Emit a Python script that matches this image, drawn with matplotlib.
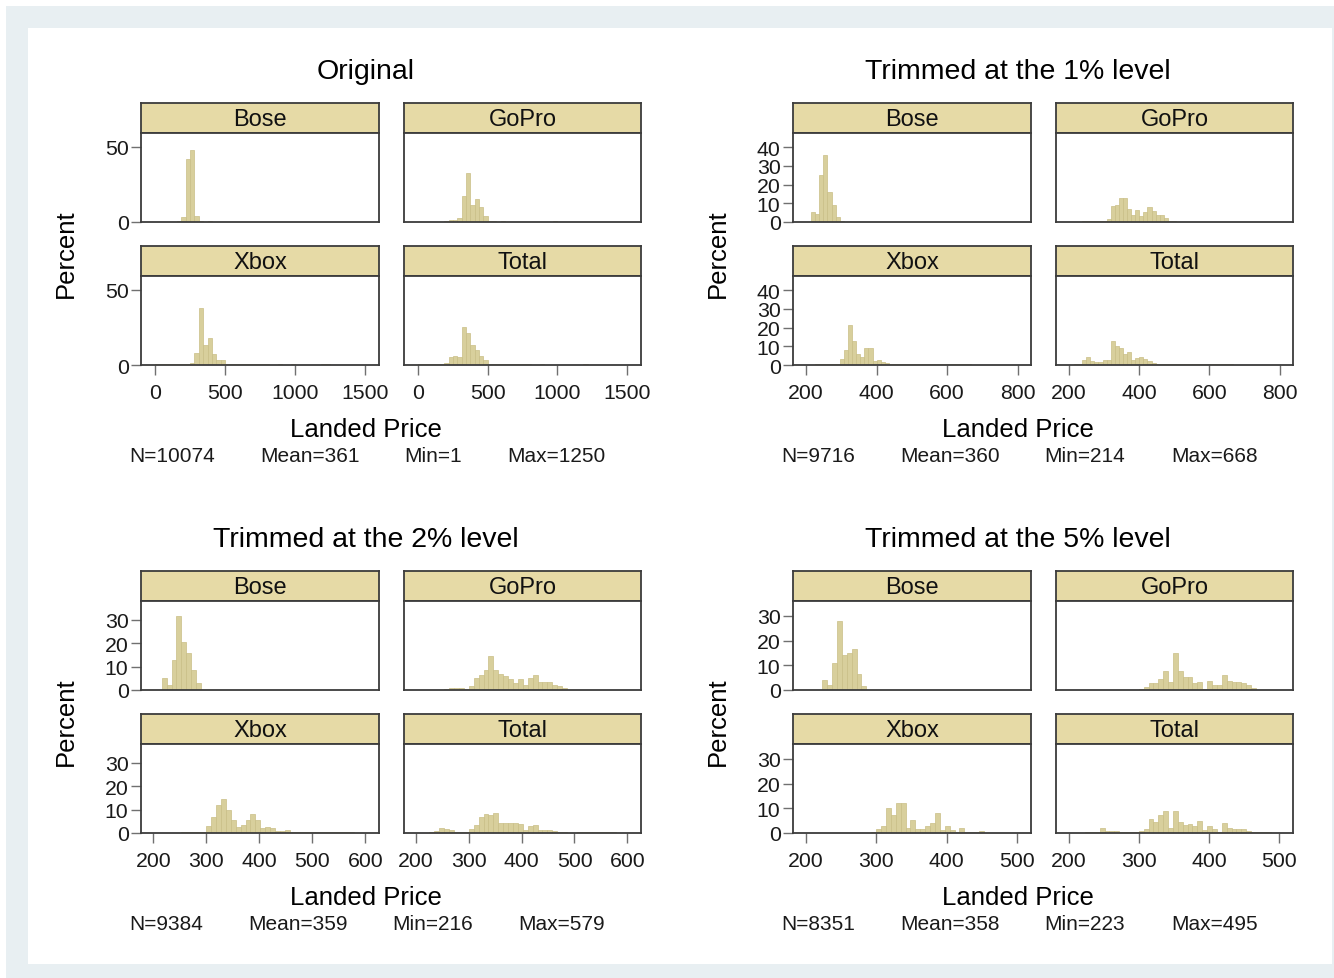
import matplotlib
matplotlib.use('Agg')
import matplotlib.pyplot as plt
from matplotlib.patches import Rectangle

plt.rcParams['font.family'] = ['Liberation Sans', 'DejaVu Sans']

# ---- data (percent per bin) ----
groups = ['Bose', 'GoPro', 'Xbox', 'Total']
titles = ['Original', 'Trimmed at the 1% level',
          'Trimmed at the 2% level', 'Trimmed at the 5% level']

n_obs = [10074, 9716, 9384, 8351]
means = [361, 360, 359, 358]
mins = [1, 214, 216, 223]
maxs = [1250, 668, 579, 495]
n_bins = [40, 39, 39, 39]

# Original
orig_bose = [0, 0, 0, 0, 0, 0.5, 3, 42, 48, 4, 0.5, 0, 0.5] + [0] * 27
orig_gopro = ([0, 0, 0, 0, 0, 0, 0.4, 1, 1.5, 2.5, 17.5, 32.5, 11, 15, 10, 4, 0.5, 0.5, 0, 0.4]
              + [0] * 11 + [0.4] + [0] * 8)
orig_xbox = ([0.4] * 7 + [0.5, 1, 8, 38, 13, 18, 7, 3.5, 3.5] + [0.4] * 10
             + [0, 0, 0.6, 0, 0, 0.4, 0, 0, 0, 0, 0, 0, 0.6, 0.4])
orig_total = ([0.4] * 6 + [1, 5, 6, 5.5, 25, 21, 13, 10, 6, 3] + [0.4] * 10
              + [0, 0, 0.5, 0, 0, 0, 0, 0, 0, 0, 0, 0, 0.5, 0.3])

# Trimmed 1%
t1_bose = [5.5, 4.5, 25, 36, 16, 9, 2.5, 0.5] + [0] * 31
t1_gopro = [0, 0, 0.3, 0.5, 0.5, 0.3, 0.5, 0.8, 1.5, 8.5, 9, 13, 13, 7, 4, 6.5, 3, 5.5, 8, 6,
            4, 3.5, 2, 0.8, 0.5] + [0] * 14
t1_xbox = [0, 0.3, 0.3, 0.3, 0.3, 0.5, 0.8, 3, 8, 21.5, 13, 6, 4.5, 9, 9, 2, 2.5, 1.5, 1, 0.8,
           0.6] + [0.3] * 18
t1_total = [0.3, 0.3, 2.5, 4.5, 2, 1.5, 1.5, 2.5, 2.5, 13, 10, 9, 6, 7, 2.5, 4, 4.5, 3, 2, 1] \
    + [0.5] * 9 + [0.3] * 10

# Trimmed 2%
t2_bose = [5, 2, 12.7, 31.6, 20.6, 16, 8.4, 2.9] + [0] * 31
t2_gopro = [0, 0, 0, 0, 0.5, 0.7, 0.8, 0.7, 0.6, 1.5, 5, 6.5, 8.5, 14.5, 8.5, 7, 6, 4.5, 3, 4.5,
            2, 5, 6.5, 3.5, 3.5, 3.5, 2, 1.5, 1] + [0] * 10
t2_xbox = [0, 0, 0, 0, 0.3, 0.3, 0.5, 0.5, 0.5, 3, 7, 12, 14.5, 10, 5.5, 2.5, 3.5, 5.5, 8, 5.5,
           2, 2.5, 2, 1, 1, 1.2] + [0.5] * 13
t2_total = [0.2, 0.5, 1, 2, 1.5, 1.1, 0.5, 0.3, 0.5, 1.5, 3.3, 6.7, 8.1, 7.8, 8.4, 4.2, 4.2, 4.2,
            4.2, 3.8, 1.1, 2.8, 3.3, 1.1, 1.4, 1.4, 0.7, 0.5, 0.3, 0.2, 0.2] + [0.3] * 8

# Trimmed 5%
t5_bose = [4, 2, 11, 28, 14, 15, 16.5, 6.5, 1.5] + [0] * 30
t5_gopro = [0] * 11 + [0.5, 1.1, 2.7, 3, 4.5, 7.7, 3.4, 14.9, 7.7, 5.1, 5.1, 3, 3.2, 0.3, 3.7,
                       1.9, 1.9, 6.2, 3.7, 3.2, 3.2, 2.7, 1.9, 0.9, 0.2] + [0] * 3
t5_xbox = [0] * 10 + [0.5, 1.7, 3, 10, 7.2, 12, 12, 2, 5.1, 1.8, 1.8, 2.8, 3.9, 8, 1.4, 3, 1.1,
                      0.3, 2, 0.3, 0.3, 0.3, 0.7] + [0.2] * 6
t5_total = [0.3, 0.3, 0.3, 2, 0.8, 0.8, 0.8, 0.3, 0.5, 0.3, 0.3, 0.9, 1.7, 5.5, 4.4, 7.3, 9, 2.1,
            9.1, 4.4, 3.4, 3.6, 2.9, 4.8, 1.2, 2.9, 1.5, 0.5, 3.9, 2, 1.5, 1.5, 1.5, 0.7, 0.3,
            0.3, 0.3, 0.3, 0.2]

panel_data = [[orig_bose, orig_gopro, orig_xbox, orig_total],
              [t1_bose, t1_gopro, t1_xbox, t1_total],
              [t2_bose, t2_gopro, t2_xbox, t2_total],
              [t5_bose, t5_gopro, t5_xbox, t5_total]]

x_ticks = [[0, 500, 1000, 1500], [200, 400, 600, 800],
           [200, 300, 400, 500, 600], [200, 300, 400, 500]]
y_ticks = [[0, 50], [0, 10, 20, 30, 40], [0, 10, 20, 30], [0, 10, 20, 30]]

# ---- layout / style ----
W, H = 1334, 979
bar_fill = '#d8cf9c'
bar_edge = '#c9be86'
strip_fill = '#e6daa6'
frame_col = '#3c3c3c'
tick_col = '#707070'

x_lims = [(-100, 1600), (163, 838), (177, 626), (181.5, 520)]
y_tops = [59, 47.5, 38, 36]
panel_off = [(0, 0), (652, 0), (0, 468), (652, 468)]
stat_x = [[129, 260, 404, 507], [781, 900, 1044, 1171],
          [129, 248, 392, 518], [781, 900, 1044, 1171]]


def fx(x):
    return x / W


def fy(y):
    return 1 - y / H


def add_box(x0, y0, x1, y1):
    return fig.add_axes([fx(x0), fy(y1), (x1 - x0) / W, (y1 - y0) / H])


fig = plt.figure(figsize=(W / 100, H / 100), dpi=100)
fig.patch.set_facecolor('white')
fig.add_artist(Rectangle((fx(6), fy(979)), (1334 - 6) / W, (979 - 7) / H,
                         transform=fig.transFigure, facecolor='#e8eff2', edgecolor='none', zorder=-10))
fig.add_artist(Rectangle((fx(28), fy(965)), (1332 - 28) / W, (965 - 29) / H,
                         transform=fig.transFigure, facecolor='white', edgecolor='none', zorder=-9))

cols = [(141, 379), (404, 641)]
rows = [(104, 134, 223), (247, 277, 366)]

for p in range(4):
    dx, dy = panel_off[p]
    width = (maxs[p] - mins[p]) / n_bins[p]
    edges = [mins[p] + width * i for i in range(n_bins[p])]

    for g in range(4):
        r, c = divmod(g, 2)
        x0, x1 = cols[c][0] + dx, cols[c][1] + dx
        s0, s1, y1 = rows[r][0] + dy, rows[r][1] + dy, rows[r][2] + dy

        # strip with group name
        st = add_box(x0, s0, x1, s1)
        st.set_facecolor(strip_fill)
        st.set_xticks([])
        st.set_yticks([])
        for sp in st.spines.values():
            sp.set_color(frame_col)
            sp.set_linewidth(1.3)
        st.text(0.5, 0.47, groups[g], ha='center', va='center', fontsize=17,
                color='#111111', transform=st.transAxes)

        # histogram
        ax = add_box(x0, s1, x1, y1)
        ax.bar(edges, panel_data[p][g], width=width, align='edge',
               color=bar_fill, edgecolor=bar_edge, linewidth=0.5)
        ax.set_xlim(*x_lims[p])
        ax.set_ylim(0, y_tops[p])
        for sp in ax.spines.values():
            sp.set_color(frame_col)
            sp.set_linewidth(1.3)
        ax.tick_params(direction='out', length=7, width=1, color=tick_col,
                       labelsize=15.3, labelcolor='#1a1a1a')
        ax.tick_params(axis='x', pad=6)
        ax.tick_params(axis='y', pad=2)
        ax.set_xticks(x_ticks[p])
        ax.set_yticks(y_ticks[p])
        if c == 1:
            ax.tick_params(axis='y', left=False, labelleft=False)
        if r == 0:
            ax.tick_params(axis='x', bottom=False, labelbottom=False)

    # panel texts
    fig.text(fx(366 + dx), fy(72 + dy), titles[p], ha='center', va='center', fontsize=20.5)
    fig.text(fx(366 + dx), fy(430 + dy), 'Landed Price', ha='center', va='center', fontsize=18.5)
    fig.text(fx(66 + dx), fy(254 + dy), 'Percent', ha='center', va='center',
             rotation=90, fontsize=18.5)
    labels = ['N=%d' % n_obs[p], 'Mean=%d' % means[p], 'Min=%d' % mins[p], 'Max=%d' % maxs[p]]
    for xs, lab in zip(stat_x[p], labels):
        fig.text(fx(xs), fy(457 + dy), lab, ha='left', va='center', fontsize=15, color='#1a1a1a')

fig.savefig('out.png', dpi=100)
